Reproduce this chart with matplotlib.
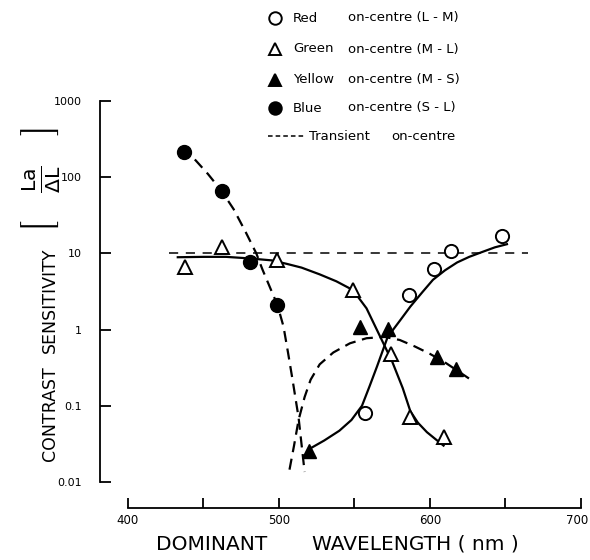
import numpy as np
import matplotlib
matplotlib.use("Agg")
import matplotlib.pyplot as plt
import matplotlib.transforms as mtransforms
from matplotlib.lines import Line2D
from matplotlib.ticker import FixedLocator, FixedFormatter, NullLocator

# measured points (wavelength nm, contrast sensitivity)
red_x = [557, 586, 603, 614, 648]
red_y = [0.081, 2.8, 6.2, 10.6, 16.7]
green_x = [438, 462, 499, 549, 574, 587, 609]
green_y = [6.7, 12.3, 8.3, 3.3, 0.48, 0.072, 0.039]
yellow_x = [520, 554, 572, 605, 617]
yellow_y = [0.0255, 1.09, 1.03, 0.43, 0.30]
blue_x = [437, 462, 481, 499]
blue_y = [213, 66, 7.6, 2.13]

# hand-drawn fitted curves
red_fit_x = [520, 530, 540, 548, 555, 560, 565, 572, 580, 587, 595, 602, 610, 618, 626, 635, 643, 651]
red_fit_y = [0.027, 0.035, 0.047, 0.065, 0.10, 0.18, 0.33, 0.80, 1.3, 2.0, 3.1, 4.5, 6.0, 7.6, 9.0, 10.5, 12.0, 13.2]
green_fit_x = [433, 450, 465, 480, 495, 505, 515, 527, 538, 549, 558, 567, 575, 582, 587, 592, 598, 604, 609]
green_fit_y = [8.9, 9.0, 9.0, 8.6, 8.1, 7.3, 6.5, 5.3, 4.3, 3.3, 1.9, 0.81, 0.38, 0.17, 0.085, 0.06, 0.045, 0.036, 0.03]
yellow_fit_x = [507, 510, 513, 517, 521, 527, 536, 547, 558, 570, 580, 590, 600, 610, 618, 627]
yellow_fit_y = [0.0145, 0.03, 0.065, 0.13, 0.22, 0.35, 0.50, 0.66, 0.77, 0.80, 0.73, 0.60, 0.48, 0.37, 0.29, 0.22]
blue_fit_x = [436, 445, 453, 462, 470, 478, 485, 489, 494, 499, 503, 506, 509, 513, 517]
blue_fit_y = [250, 165, 110, 66, 38, 19, 10, 6.2, 3.6, 2.1, 1.1, 0.5, 0.22, 0.07, 0.0135]
transient_x = [427, 665]
transient_y = [10, 10]

# axis ticks
x_ticks = [400, 450, 500, 550, 600, 650, 700]
x_tick_labels = ["400", "", "500", "", "600", "", "700"]
y_ticks = [0.01, 0.1, 1, 10, 100, 1000]
y_tick_labels = ["0.01", "0.1", "1", "10", "100", "1000"]

# legend entries
legend_names = ["Red", "Green", "Yellow", "Blue"]
legend_opp = ["on-centre (L - M)", "on-centre (M - L)", "on-centre (M - S)", "on-centre (S - L)"]

W, H = 590, 560
fig = plt.figure(figsize=(W / 100, H / 100), dpi=100)
ax = fig.add_axes([100 / W, 52 / H, 488.5 / W, 408 / H])

# fitted curves
ax.plot(red_fit_x, red_fit_y, color="black", lw=1.6)
ax.plot(green_fit_x, green_fit_y, color="black", lw=1.6)
ax.plot(yellow_fit_x, yellow_fit_y, color="black", lw=1.6, ls=(0, (5, 3)))
ax.plot(blue_fit_x, blue_fit_y, color="black", lw=1.6, ls=(0, (5, 3)))
ax.plot(transient_x, transient_y, color="black", lw=1.1, ls=(0, (6, 5)))

# data markers
ax.plot(red_x, red_y, "o", ms=9.5, mfc="white", mec="black", mew=1.4, zorder=5)
ax.plot(green_x, green_y, "^", ms=10, mfc="white", mec="black", mew=1.4, zorder=5)
ax.plot(yellow_x, yellow_y, "^", ms=10, mfc="black", mec="black", zorder=5)
ax.plot(blue_x, blue_y, "o", ms=10, mfc="black", mec="black", zorder=5)

ax.set_yscale("log")
ax.set_xlim(381.5, 705)
ax.set_ylim(10 ** -2.342, 10 ** 3.013)

# detached axes, ticks pointing inward
for s in ["top", "right"]:
    ax.spines[s].set_visible(False)
ax.spines["left"].set_bounds(0.01, 1000)
ax.spines["bottom"].set_bounds(400, 700)
ax.spines["left"].set_linewidth(1.3)
ax.spines["bottom"].set_linewidth(1.3)

ax.xaxis.set_major_locator(FixedLocator(x_ticks))
ax.xaxis.set_major_formatter(FixedFormatter(x_tick_labels))
ax.yaxis.set_major_locator(FixedLocator(y_ticks))
ax.yaxis.set_major_formatter(FixedFormatter(y_tick_labels))
ax.yaxis.set_minor_locator(NullLocator())
ax.tick_params(axis="x", direction="in", length=7, width=1.3, pad=4, labelsize=8.5)
ax.tick_params(axis="y", direction="in", length=8, width=1.3, pad=13, labelsize=8)

# nudge the last x label so it stays inside the canvas
lab700 = ax.get_xticklabels()[-1]
lab700.set_transform(lab700.get_transform() + mtransforms.ScaledTranslation(-4 / 100, 0, fig.dpi_scale_trans))

# axis titles
fig.text(212 / W, 1 - 544 / H, "DOMINANT", ha="center", va="center", fontsize=14.5)
fig.text(415 / W, 1 - 544 / H, "WAVELENGTH ( nm )", ha="center", va="center", fontsize=14.5)
fig.text(50 / W, 1 - 414 / H, "CONTRAST", rotation=90, ha="center", va="center", fontsize=12.5)
fig.text(50 / W, 1 - 300 / H, "SENSITIVITY", rotation=90, ha="center", va="center", fontsize=12.5)
fig.text(40 / W, 1 - 180 / H, r"$\left[\quad\frac{\mathrm{La}}{\Delta\mathrm{L}}\quad\right]$",
         rotation=90, ha="center", va="center", fontsize=21)

# legend drawn by hand
rows = [18, 49, 80, 108]
styles = [("o", "white"), ("^", "white"), ("^", "black"), ("o", "black")]
for i in range(4):
    fy = 1 - rows[i] / H
    m, fc = styles[i]
    fig.add_artist(Line2D([275 / W], [fy], marker=m, ms=9, mfc=fc, mec="black", mew=1.4))
    fig.text(293 / W, fy, legend_names[i], ha="left", va="center", fontsize=9.5)
    fig.text(348 / W, fy, legend_opp[i], ha="left", va="center", fontsize=9.5)
fy = 1 - 136 / H
fig.add_artist(Line2D([268 / W, 305 / W], [fy, fy], color="black", lw=1.1, ls=(0, (3, 2))))
fig.text(309 / W, fy, "Transient", ha="left", va="center", fontsize=9.5)
fig.text(391 / W, fy, "on-centre", ha="left", va="center", fontsize=9.5)

fig.savefig("out.png", dpi=100)
